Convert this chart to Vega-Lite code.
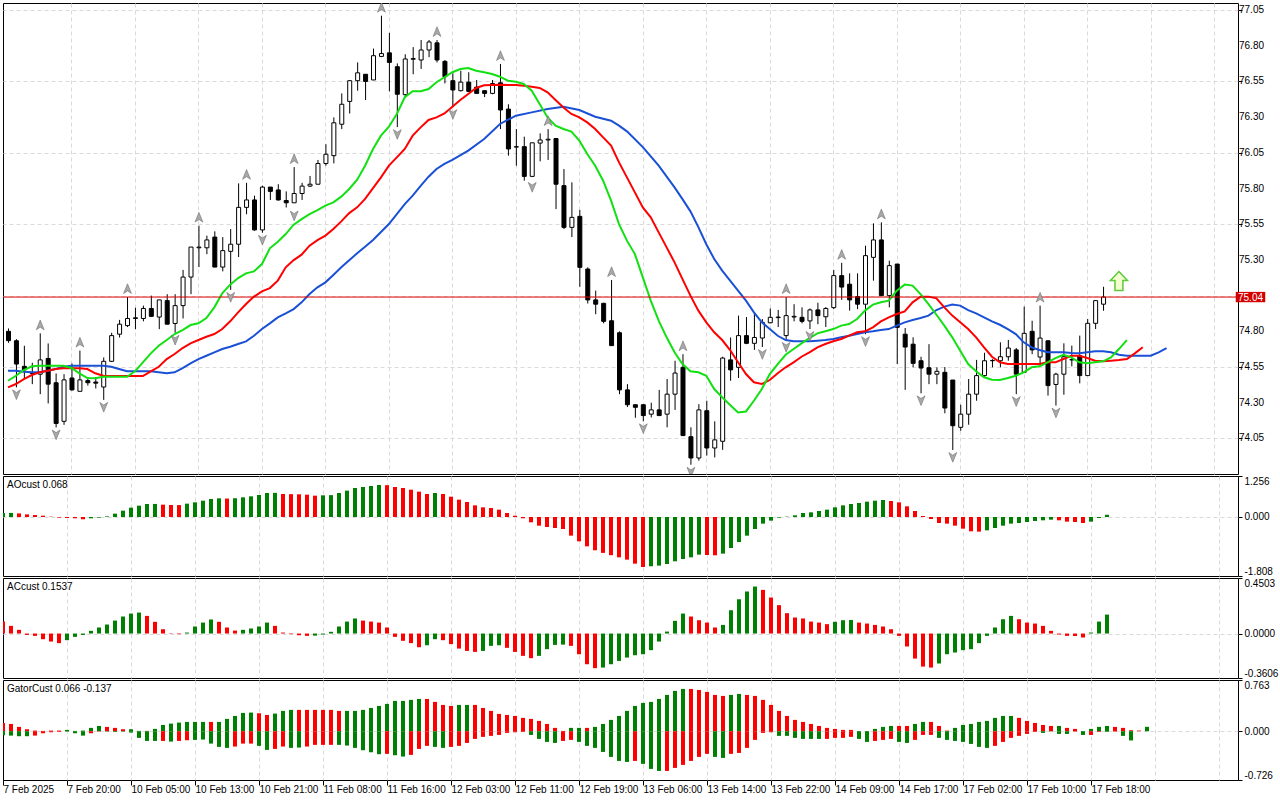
{
  "$schema": "https://vega.github.io/schema/vega-lite/v6.json",
  "background": "white",
  "padding": {"left": 2, "top": 2, "right": 0, "bottom": 0},
  "spacing": 0,
  "config": {
    "view": {"stroke": "black", "strokeWidth": 1},
    "font": "Liberation Sans",
    "axis": {
      "labelFont": "Liberation Sans",
      "labelFontSize": 10,
      "labelColor": "black",
      "tickColor": "black",
      "domain": false,
      "gridColor": "#dadada",
      "gridDash": [4, 3],
      "gridWidth": 1
    }
  },
  "datasets": {
    "candles": [
      {"k":0,"o":74.8,"h":74.82,"l":74.72,"c":74.735},
      {"k":1,"o":74.734,"h":74.745,"l":74.408,"c":74.571},
      {"k":2,"o":74.555,"h":74.699,"l":74.466,"c":74.53},
      {"k":3,"o":74.51,"h":74.58,"l":74.43,"c":74.505},
      {"k":4,"o":74.5,"h":74.786,"l":74.36,"c":74.6},
      {"k":5,"o":74.61,"h":74.715,"l":74.295,"c":74.43},
      {"k":6,"o":74.44,"h":74.505,"l":74.127,"c":74.155},
      {"k":7,"o":74.17,"h":74.5,"l":74.145,"c":74.46},
      {"k":8,"o":74.473,"h":74.575,"l":74.385,"c":74.39},
      {"k":9,"o":74.38,"h":74.665,"l":74.38,"c":74.46},
      {"k":10,"o":74.455,"h":74.48,"l":74.42,"c":74.44},
      {"k":11,"o":74.445,"h":74.48,"l":74.4,"c":74.437},
      {"k":12,"o":74.41,"h":74.617,"l":74.32,"c":74.59},
      {"k":13,"o":74.59,"h":74.79,"l":74.585,"c":74.77},
      {"k":14,"o":74.78,"h":74.88,"l":74.757,"c":74.85},
      {"k":15,"o":74.84,"h":75.04,"l":74.83,"c":74.89},
      {"k":16,"o":74.89,"h":74.965,"l":74.815,"c":74.895},
      {"k":17,"o":74.89,"h":74.98,"l":74.87,"c":74.96},
      {"k":18,"o":74.96,"h":75.05,"l":74.9,"c":74.905},
      {"k":19,"o":74.9,"h":75.02,"l":74.815,"c":75.02},
      {"k":20,"o":75.015,"h":75.06,"l":74.85,"c":74.85},
      {"k":21,"o":74.855,"h":75.06,"l":74.79,"c":74.98},
      {"k":22,"o":74.98,"h":75.23,"l":74.89,"c":75.18},
      {"k":23,"o":75.18,"h":75.39,"l":75.06,"c":75.39},
      {"k":24,"o":75.385,"h":75.54,"l":75.25,"c":75.39},
      {"k":25,"o":75.385,"h":75.47,"l":75.34,"c":75.44},
      {"k":26,"o":75.46,"h":75.5,"l":75.25,"c":75.25},
      {"k":27,"o":75.25,"h":75.46,"l":75.22,"c":75.365},
      {"k":28,"o":75.36,"h":75.516,"l":75.09,"c":75.41},
      {"k":29,"o":75.41,"h":75.836,"l":75.32,"c":75.668},
      {"k":30,"o":75.668,"h":75.84,"l":75.62,"c":75.72},
      {"k":31,"o":75.72,"h":75.75,"l":75.505,"c":75.51},
      {"k":32,"o":75.51,"h":75.82,"l":75.49,"c":75.81},
      {"k":33,"o":75.81,"h":75.81,"l":75.72,"c":75.78},
      {"k":34,"o":75.79,"h":75.83,"l":75.715,"c":75.72},
      {"k":35,"o":75.716,"h":75.78,"l":75.667,"c":75.7},
      {"k":36,"o":75.7,"h":75.95,"l":75.7,"c":75.765},
      {"k":37,"o":75.765,"h":75.84,"l":75.72,"c":75.817},
      {"k":38,"o":75.817,"h":75.888,"l":75.81,"c":75.83},
      {"k":39,"o":75.83,"h":76.0,"l":75.83,"c":75.975},
      {"k":40,"o":75.975,"h":76.11,"l":75.96,"c":76.04},
      {"k":41,"o":76.03,"h":76.298,"l":75.976,"c":76.26},
      {"k":42,"o":76.25,"h":76.466,"l":76.216,"c":76.39},
      {"k":43,"o":76.41,"h":76.56,"l":76.325,"c":76.555},
      {"k":44,"o":76.555,"h":76.683,"l":76.485,"c":76.61},
      {"k":45,"o":76.6,"h":76.6,"l":76.42,"c":76.55},
      {"k":46,"o":76.56,"h":76.78,"l":76.56,"c":76.73},
      {"k":47,"o":76.725,"h":77.01,"l":76.72,"c":76.745},
      {"k":48,"o":76.75,"h":76.89,"l":76.48,"c":76.683},
      {"k":49,"o":76.653,"h":76.676,"l":76.23,"c":76.46},
      {"k":50,"o":76.457,"h":76.74,"l":76.438,"c":76.707},
      {"k":51,"o":76.705,"h":76.79,"l":76.6,"c":76.71},
      {"k":52,"o":76.7,"h":76.84,"l":76.637,"c":76.77},
      {"k":53,"o":76.77,"h":76.84,"l":76.72,"c":76.826},
      {"k":54,"o":76.82,"h":76.84,"l":76.683,"c":76.7},
      {"k":55,"o":76.69,"h":76.7,"l":76.536,"c":76.583},
      {"k":56,"o":76.555,"h":76.607,"l":76.37,"c":76.49},
      {"k":57,"o":76.485,"h":76.625,"l":76.48,"c":76.545},
      {"k":58,"o":76.545,"h":76.614,"l":76.48,"c":76.48},
      {"k":59,"o":76.51,"h":76.56,"l":76.466,"c":76.466},
      {"k":60,"o":76.485,"h":76.49,"l":76.44,"c":76.466},
      {"k":61,"o":76.466,"h":76.56,"l":76.46,"c":76.535},
      {"k":62,"o":76.54,"h":76.672,"l":76.216,"c":76.35},
      {"k":63,"o":76.356,"h":76.39,"l":76.03,"c":76.077},
      {"k":64,"o":76.09,"h":76.216,"l":75.96,"c":76.093},
      {"k":65,"o":76.093,"h":76.163,"l":75.855,"c":75.885},
      {"k":66,"o":75.885,"h":76.12,"l":75.88,"c":76.12},
      {"k":67,"o":76.118,"h":76.186,"l":75.99,"c":76.14},
      {"k":68,"o":76.14,"h":76.216,"l":76.0,"c":76.145},
      {"k":69,"o":76.15,"h":76.15,"l":75.656,"c":75.83},
      {"k":70,"o":75.82,"h":75.936,"l":75.516,"c":75.528},
      {"k":71,"o":75.528,"h":75.843,"l":75.46,"c":75.598},
      {"k":72,"o":75.605,"h":75.65,"l":75.112,"c":75.248},
      {"k":73,"o":75.236,"h":75.248,"l":74.995,"c":75.02},
      {"k":74,"o":75.02,"h":75.085,"l":74.92,"c":74.99},
      {"k":75,"o":74.996,"h":75.0,"l":74.856,"c":74.87},
      {"k":76,"o":74.874,"h":75.159,"l":74.7,"c":74.7},
      {"k":77,"o":74.79,"h":74.8,"l":74.36,"c":74.39},
      {"k":78,"o":74.39,"h":74.43,"l":74.27,"c":74.286},
      {"k":79,"o":74.286,"h":74.286,"l":74.195,"c":74.268},
      {"k":80,"o":74.286,"h":74.29,"l":74.17,"c":74.21},
      {"k":81,"o":74.22,"h":74.3,"l":74.197,"c":74.25},
      {"k":82,"o":74.25,"h":74.39,"l":74.21,"c":74.21},
      {"k":83,"o":74.22,"h":74.466,"l":74.128,"c":74.36},
      {"k":84,"o":74.36,"h":74.594,"l":74.25,"c":74.508},
      {"k":85,"o":74.548,"h":74.64,"l":74.07,"c":74.07},
      {"k":86,"o":74.062,"h":74.128,"l":73.866,"c":73.913},
      {"k":87,"o":73.913,"h":74.29,"l":73.894,"c":74.25},
      {"k":88,"o":74.244,"h":74.314,"l":73.93,"c":73.983},
      {"k":89,"o":73.983,"h":74.17,"l":73.917,"c":74.04},
      {"k":90,"o":74.03,"h":74.622,"l":73.97,"c":74.613},
      {"k":91,"o":74.6,"h":74.757,"l":74.454,"c":74.53},
      {"k":92,"o":74.548,"h":74.91,"l":74.473,"c":74.77},
      {"k":93,"o":74.77,"h":74.9,"l":74.71,"c":74.716},
      {"k":94,"o":74.716,"h":74.93,"l":74.67,"c":74.757},
      {"k":95,"o":74.753,"h":74.886,"l":74.69,"c":74.863},
      {"k":96,"o":74.86,"h":74.96,"l":74.856,"c":74.898},
      {"k":97,"o":74.896,"h":74.95,"l":74.83,"c":74.9},
      {"k":98,"o":74.77,"h":75.04,"l":74.74,"c":74.91},
      {"k":99,"o":74.9,"h":74.99,"l":74.87,"c":74.905},
      {"k":100,"o":74.898,"h":74.968,"l":74.856,"c":74.87},
      {"k":101,"o":74.873,"h":74.96,"l":74.816,"c":74.95},
      {"k":102,"o":74.95,"h":75.0,"l":74.85,"c":74.91},
      {"k":103,"o":74.902,"h":74.97,"l":74.83,"c":74.96},
      {"k":104,"o":74.966,"h":75.23,"l":74.955,"c":75.19},
      {"k":105,"o":75.19,"h":75.28,"l":75.02,"c":75.11},
      {"k":106,"o":75.13,"h":75.206,"l":74.945,"c":75.02},
      {"k":107,"o":75.043,"h":75.206,"l":74.955,"c":74.99},
      {"k":108,"o":74.99,"h":75.4,"l":74.78,"c":75.33},
      {"k":109,"o":75.318,"h":75.556,"l":75.155,"c":75.44},
      {"k":110,"o":75.44,"h":75.563,"l":75.05,"c":75.05},
      {"k":111,"o":75.05,"h":75.295,"l":74.968,"c":75.26},
      {"k":112,"o":75.271,"h":75.271,"l":74.571,"c":74.828},
      {"k":113,"o":74.78,"h":74.823,"l":74.39,"c":74.69},
      {"k":114,"o":74.71,"h":74.758,"l":74.548,"c":74.576},
      {"k":115,"o":74.594,"h":74.622,"l":74.366,"c":74.543},
      {"k":116,"o":74.545,"h":74.71,"l":74.43,"c":74.5},
      {"k":117,"o":74.5,"h":74.548,"l":74.43,"c":74.52},
      {"k":118,"o":74.513,"h":74.55,"l":74.226,"c":74.263},
      {"k":119,"o":74.459,"h":74.459,"l":73.969,"c":74.139},
      {"k":120,"o":74.128,"h":74.286,"l":74.104,"c":74.22},
      {"k":121,"o":74.22,"h":74.466,"l":74.146,"c":74.36},
      {"k":122,"o":74.36,"h":74.6,"l":74.314,"c":74.49},
      {"k":123,"o":74.49,"h":74.65,"l":74.48,"c":74.594},
      {"k":124,"o":74.594,"h":74.605,"l":74.548,"c":74.596},
      {"k":125,"o":74.594,"h":74.723,"l":74.548,"c":74.622},
      {"k":126,"o":74.622,"h":74.74,"l":74.594,"c":74.683},
      {"k":127,"o":74.67,"h":74.683,"l":74.36,"c":74.5},
      {"k":128,"o":74.513,"h":74.973,"l":74.513,"c":74.786},
      {"k":129,"o":74.8,"h":74.874,"l":74.64,"c":74.67},
      {"k":130,"o":74.62,"h":74.98,"l":74.56,"c":74.753},
      {"k":131,"o":74.734,"h":74.734,"l":74.35,"c":74.42},
      {"k":132,"o":74.428,"h":74.51,"l":74.28,"c":74.5},
      {"k":133,"o":74.5,"h":74.716,"l":74.356,"c":74.622},
      {"k":134,"o":74.6,"h":74.7,"l":74.555,"c":74.602},
      {"k":135,"o":74.63,"h":74.77,"l":74.436,"c":74.49},
      {"k":136,"o":74.49,"h":74.886,"l":74.49,"c":74.856},
      {"k":137,"o":74.856,"h":75.015,"l":74.816,"c":75.015},
      {"k":138,"o":74.99,"h":75.112,"l":74.944,"c":75.04}
    ],
    "alligator": [
      {"k":0,"jaw":74.524,"teeth":74.407,"lips":74.454},
      {"k":1,"jaw":74.524,"teeth":74.431,"lips":74.489},
      {"k":2,"jaw":74.517,"teeth":74.466,"lips":74.529},
      {"k":3,"jaw":74.513,"teeth":74.494,"lips":74.555},
      {"k":4,"jaw":74.513,"teeth":74.513,"lips":74.559},
      {"k":5,"jaw":74.524,"teeth":74.524,"lips":74.559},
      {"k":6,"jaw":74.536,"teeth":74.536,"lips":74.559},
      {"k":7,"jaw":74.552,"teeth":74.541,"lips":74.559},
      {"k":8,"jaw":74.559,"teeth":74.541,"lips":74.543},
      {"k":9,"jaw":74.559,"teeth":74.541,"lips":74.506},
      {"k":10,"jaw":74.559,"teeth":74.536,"lips":74.473},
      {"k":11,"jaw":74.559,"teeth":74.506,"lips":74.471},
      {"k":12,"jaw":74.559,"teeth":74.489,"lips":74.482},
      {"k":13,"jaw":74.552,"teeth":74.487,"lips":74.482},
      {"k":14,"jaw":74.536,"teeth":74.487,"lips":74.482},
      {"k":15,"jaw":74.52,"teeth":74.487,"lips":74.482},
      {"k":16,"jaw":74.52,"teeth":74.487,"lips":74.52},
      {"k":17,"jaw":74.52,"teeth":74.487,"lips":74.583},
      {"k":18,"jaw":74.52,"teeth":74.52,"lips":74.646},
      {"k":19,"jaw":74.513,"teeth":74.552,"lips":74.699},
      {"k":20,"jaw":74.506,"teeth":74.606,"lips":74.739},
      {"k":21,"jaw":74.513,"teeth":74.641,"lips":74.781},
      {"k":22,"jaw":74.543,"teeth":74.683,"lips":74.809},
      {"k":23,"jaw":74.576,"teeth":74.716,"lips":74.844},
      {"k":24,"jaw":74.606,"teeth":74.739,"lips":74.856},
      {"k":25,"jaw":74.629,"teeth":74.762,"lips":74.893},
      {"k":26,"jaw":74.653,"teeth":74.781,"lips":74.968},
      {"k":27,"jaw":74.676,"teeth":74.816,"lips":75.066},
      {"k":28,"jaw":74.692,"teeth":74.87,"lips":75.127},
      {"k":29,"jaw":74.711,"teeth":74.933,"lips":75.173},
      {"k":30,"jaw":74.73,"teeth":74.991,"lips":75.206},
      {"k":31,"jaw":74.769,"teeth":75.043,"lips":75.22},
      {"k":32,"jaw":74.816,"teeth":75.08,"lips":75.271},
      {"k":33,"jaw":74.856,"teeth":75.103,"lips":75.381},
      {"k":34,"jaw":74.898,"teeth":75.155,"lips":75.428},
      {"k":35,"jaw":74.926,"teeth":75.248,"lips":75.481},
      {"k":36,"jaw":74.956,"teeth":75.299,"lips":75.547},
      {"k":37,"jaw":75.003,"teeth":75.337,"lips":75.586},
      {"k":38,"jaw":75.061,"teeth":75.4,"lips":75.621},
      {"k":39,"jaw":75.108,"teeth":75.439,"lips":75.649},
      {"k":40,"jaw":75.143,"teeth":75.47,"lips":75.68},
      {"k":41,"jaw":75.195,"teeth":75.516,"lips":75.703},
      {"k":42,"jaw":75.248,"teeth":75.57,"lips":75.743},
      {"k":43,"jaw":75.297,"teeth":75.628,"lips":75.797},
      {"k":44,"jaw":75.346,"teeth":75.668,"lips":75.862},
      {"k":45,"jaw":75.392,"teeth":75.727,"lips":75.96},
      {"k":46,"jaw":75.439,"teeth":75.803,"lips":76.077},
      {"k":47,"jaw":75.495,"teeth":75.878,"lips":76.17},
      {"k":48,"jaw":75.551,"teeth":75.96,"lips":76.233},
      {"k":49,"jaw":75.62,"teeth":76.018,"lips":76.322},
      {"k":50,"jaw":75.691,"teeth":76.077,"lips":76.439},
      {"k":51,"jaw":75.75,"teeth":76.17,"lips":76.481},
      {"k":52,"jaw":75.818,"teeth":76.228,"lips":76.481},
      {"k":53,"jaw":75.883,"teeth":76.28,"lips":76.497},
      {"k":54,"jaw":75.937,"teeth":76.298,"lips":76.544},
      {"k":55,"jaw":75.972,"teeth":76.326,"lips":76.579},
      {"k":56,"jaw":76.0,"teeth":76.373,"lips":76.614},
      {"k":57,"teeth":76.42,"lips":76.637},
      {"k":58,"jaw":76.065,"teeth":76.462,"lips":76.644},
      {"k":59,"teeth":76.504,"lips":76.625},
      {"k":60,"jaw":76.147,"teeth":76.523,"lips":76.614},
      {"k":61,"teeth":76.525,"lips":76.602},
      {"k":62,"jaw":76.252,"teeth":76.527,"lips":76.583},
      {"k":63,"teeth":76.525,"lips":76.555},
      {"k":64,"jaw":76.31,"teeth":76.525,"lips":76.548},
      {"k":65,"teeth":76.52,"lips":76.532},
      {"k":66,"jaw":76.333,"teeth":76.513,"lips":76.485},
      {"k":67,"teeth":76.504,"lips":76.392},
      {"k":68,"jaw":76.357,"teeth":76.473,"lips":76.298},
      {"k":69,"teeth":76.42,"lips":76.24},
      {"k":70,"jaw":76.373,"teeth":76.368,"lips":76.217},
      {"k":71,"teeth":76.322,"lips":76.198},
      {"k":72,"jaw":76.35,"teeth":76.298,"lips":76.135},
      {"k":73,"teeth":76.263,"lips":76.042},
      {"k":74,"jaw":76.303,"teeth":76.217,"lips":75.96},
      {"k":75,"teeth":76.158,"lips":75.855},
      {"k":76,"jaw":76.275,"teeth":76.1,"lips":75.715},
      {"k":77,"jaw":76.24,"teeth":75.983,"lips":75.551},
      {"k":78,"jaw":76.2,"teeth":75.878,"lips":75.435},
      {"k":79,"teeth":75.773,"lips":75.341},
      {"k":80,"jaw":76.09,"teeth":75.668,"lips":75.178},
      {"k":81,"teeth":75.598,"lips":75.015},
      {"k":82,"jaw":75.96,"teeth":75.493,"lips":74.875},
      {"k":83,"teeth":75.388,"lips":74.758},
      {"k":84,"jaw":75.808,"teeth":75.283,"lips":74.653},
      {"k":85,"jaw":75.726,"teeth":75.166,"lips":74.571},
      {"k":86,"jaw":75.64,"teeth":75.05,"lips":74.52},
      {"k":87,"jaw":75.53,"teeth":74.945,"lips":74.513},
      {"k":88,"jaw":75.41,"teeth":74.863,"lips":74.489},
      {"k":89,"jaw":75.306,"teeth":74.793,"lips":74.396},
      {"k":90,"jaw":75.225,"teeth":74.739,"lips":74.338},
      {"k":91,"jaw":75.155,"teeth":74.669,"lips":74.284},
      {"k":92,"jaw":75.085,"teeth":74.583,"lips":74.232},
      {"k":93,"jaw":75.015,"teeth":74.501,"lips":74.239},
      {"k":94,"jaw":74.933,"teeth":74.443,"lips":74.314},
      {"k":95,"jaw":74.863,"teeth":74.431,"lips":74.396},
      {"k":96,"jaw":74.816,"teeth":74.459,"lips":74.501},
      {"k":97,"jaw":74.769,"teeth":74.506,"lips":74.571},
      {"k":98,"jaw":74.739,"teeth":74.548,"lips":74.636},
      {"k":99,"jaw":74.73,"teeth":74.583,"lips":74.676},
      {"k":100,"jaw":74.73,"teeth":74.622,"lips":74.716},
      {"k":101,"jaw":74.73,"teeth":74.653,"lips":74.753},
      {"k":102,"jaw":74.734,"teeth":74.688,"lips":74.786},
      {"k":103,"jaw":74.739,"teeth":74.711,"lips":74.8},
      {"k":104,"jaw":74.746,"teeth":74.73,"lips":74.816},
      {"k":105,"jaw":74.758,"teeth":74.746,"lips":74.84},
      {"k":106,"jaw":74.769,"teeth":74.77,"lips":74.851},
      {"k":107,"jaw":74.781,"teeth":74.793,"lips":74.886},
      {"k":108,"jaw":74.793,"teeth":74.8,"lips":74.945},
      {"k":109,"jaw":74.8,"teeth":74.828,"lips":74.987},
      {"k":110,"jaw":74.809,"teeth":74.87,"lips":75.003},
      {"k":111,"jaw":74.816,"teeth":74.898,"lips":75.015},
      {"k":112,"jaw":74.84,"teeth":74.921,"lips":75.085},
      {"k":113,"jaw":74.863,"teeth":74.94,"lips":75.127},
      {"k":114,"jaw":74.879,"teeth":75.003,"lips":75.12},
      {"k":115,"jaw":74.893,"teeth":75.043,"lips":75.061},
      {"k":116,"jaw":74.91,"teeth":75.043,"lips":74.991},
      {"k":117,"jaw":74.949,"teeth":75.031,"lips":74.916},
      {"k":118,"jaw":74.973,"teeth":74.968,"lips":74.84},
      {"k":119,"jaw":74.987,"teeth":74.91,"lips":74.758},
      {"k":120,"jaw":74.98,"teeth":74.863,"lips":74.664},
      {"k":121,"jaw":74.949,"teeth":74.816,"lips":74.571},
      {"k":122,"jaw":74.926,"teeth":74.758,"lips":74.52},
      {"k":123,"jaw":74.898,"teeth":74.688,"lips":74.478},
      {"k":124,"jaw":74.87,"teeth":74.622,"lips":74.461},
      {"k":125,"jaw":74.846,"teeth":74.583,"lips":74.459},
      {"k":126,"jaw":74.816,"teeth":74.571,"lips":74.473},
      {"k":127,"jaw":74.781,"teeth":74.571,"lips":74.489},
      {"k":128,"jaw":74.723,"teeth":74.571,"lips":74.513},
      {"k":129,"jaw":74.688,"teeth":74.571,"lips":74.548},
      {"k":130,"jaw":74.669,"teeth":74.571,"lips":74.555},
      {"k":131,"jaw":74.653,"teeth":74.583,"lips":74.583},
      {"k":132,"jaw":74.653,"teeth":74.583,"lips":74.613},
      {"k":133,"jaw":74.653,"teeth":74.606,"lips":74.636},
      {"k":134,"jaw":74.648,"teeth":74.629,"lips":74.618},
      {"k":135,"jaw":74.646,"teeth":74.629,"lips":74.583},
      {"k":136,"jaw":74.653,"teeth":74.613,"lips":74.576},
      {"k":137,"jaw":74.66,"teeth":74.594,"lips":74.583},
      {"k":138,"jaw":74.66,"teeth":74.59,"lips":74.59},
      {"k":139,"jaw":74.653,"teeth":74.594,"lips":74.618},
      {"k":140,"jaw":74.636,"teeth":74.599,"lips":74.676},
      {"k":141,"jaw":74.629,"teeth":74.606,"lips":74.739},
      {"k":142,"jaw":74.629,"teeth":74.646},
      {"k":143,"jaw":74.629,"teeth":74.688},
      {"k":144,"jaw":74.629},
      {"k":145,"jaw":74.653},
      {"k":146,"jaw":74.683}
    ],
    "fractals": [
      {"k":4,"side":"up","p":74.786},{"k":9,"side":"up","p":74.665},{"k":15,"side":"up","p":75.04},
      {"k":24,"side":"up","p":75.54},{"k":30,"side":"up","p":75.84},{"k":36,"side":"up","p":75.95},
      {"k":47,"side":"up","p":77.01},{"k":54,"side":"up","p":76.84},{"k":62,"side":"up","p":76.672},
      {"k":68,"side":"up","p":76.216},{"k":76,"side":"up","p":75.159},{"k":85,"side":"up","p":74.64},
      {"k":98,"side":"up","p":75.04},{"k":105,"side":"up","p":75.28},{"k":110,"side":"up","p":75.563},
      {"k":130,"side":"up","p":74.98},
      {"k":1,"side":"down","p":74.408},{"k":6,"side":"down","p":74.127},{"k":12,"side":"down","p":74.32},
      {"k":21,"side":"down","p":74.79},{"k":28,"side":"down","p":75.09},{"k":32,"side":"down","p":75.49},
      {"k":36,"side":"down","p":75.66},{"k":49,"side":"down","p":76.23},{"k":56,"side":"down","p":76.37},
      {"k":66,"side":"down","p":75.86},{"k":80,"side":"down","p":74.17},{"k":86,"side":"down","p":73.866},
      {"k":95,"side":"down","p":74.69},{"k":98,"side":"down","p":74.74},{"k":101,"side":"down","p":74.816},
      {"k":108,"side":"down","p":74.78},{"k":115,"side":"down","p":74.366},{"k":119,"side":"down","p":73.969},
      {"k":127,"side":"down","p":74.36},{"k":132,"side":"down","p":74.28}
    ],
    "signal": [{"k":140,"p":75.152}],
    "bid": [{"bid":75.04}],
    "levels": [
      {"v":77.05},{"v":76.8},{"v":76.55},{"v":76.3},{"v":76.05},{"v":75.8},
      {"v":75.55},{"v":75.3},{"v":74.8},{"v":74.55},{"v":74.3},{"v":74.05}
    ],
    "panels": [
      {"panel":"ao","label":"AOcust 0.068"},
      {"panel":"ac","label":"ACcust 0.1537"},
      {"panel":"gator","label":"GatorCust 0.066 -0.137"}
    ],
    "ind": [
      {"k":0,"ao":0.12,"aod":"u","ac":0.097,"acd":"d","gu":0.124,"gud":"d","gl":-0.06,"gld":"u"},
      {"k":1,"ao":0.125,"aod":"u","ac":0.062,"acd":"d","gu":0.109,"gud":"d","gl":-0.065,"gld":"u"},
      {"k":2,"ao":0.11,"aod":"d","ac":0.03,"acd":"d","gu":0.065,"gud":"d","gl":-0.074,"gld":"u"},
      {"k":3,"ao":0.08,"aod":"d","ac":-0.011,"acd":"d","gu":0.03,"gud":"d","gl":-0.074,"gld":"u"},
      {"k":4,"ao":0.06,"aod":"d","ac":-0.019,"acd":"d","gu":0.01,"gud":"d","gl":-0.065,"gld":"d"},
      {"k":5,"ao":0.04,"aod":"d","ac":-0.046,"acd":"d","gu":0.005,"gud":"d","gl":-0.03,"gld":"d"},
      {"k":6,"ao":0.01,"aod":"d","ac":-0.065,"acd":"d","gu":0.01,"gud":"d","gl":-0.015,"gld":"d"},
      {"k":7,"ao":-0.02,"aod":"d","ac":-0.078,"acd":"d","gu":0.01,"gud":"d","gl":-0.01,"gld":"d"},
      {"k":8,"ao":-0.03,"aod":"d","ac":-0.054,"acd":"u","gu":0.02,"gud":"u","gl":-0.005,"gld":"u"},
      {"k":9,"ao":-0.04,"aod":"d","ac":-0.027,"acd":"u","gu":0.005,"gud":"u","gl":-0.03,"gld":"u"},
      {"k":10,"ao":-0.07,"aod":"d","ac":-0.011,"acd":"u","gu":0.01,"gud":"u","gl":-0.065,"gld":"u"},
      {"k":11,"ao":-0.04,"aod":"u","ac":0.022,"acd":"u","gu":0.05,"gud":"u","gl":-0.03,"gld":"d"},
      {"k":12,"ao":-0.02,"aod":"u","ac":0.049,"acd":"u","gu":0.079,"gud":"u","gl":-0.005,"gld":"d"},
      {"k":13,"ao":0.02,"aod":"u","ac":0.073,"acd":"u","gu":0.065,"gud":"d","gl":-0.005,"gld":"u"},
      {"k":14,"ao":0.102,"aod":"u","ac":0.105,"acd":"u","gu":0.05,"gud":"d","gl":-0.01,"gld":"u"},
      {"k":15,"ao":0.194,"aod":"u","ac":0.138,"acd":"u","gu":0.03,"gud":"d","gl":-0.005,"gld":"u"},
      {"k":16,"ao":0.286,"aod":"u","ac":0.162,"acd":"u","gu":0.03,"gud":"u","gl":-0.02,"gld":"u"},
      {"k":17,"ao":0.347,"aod":"u","ac":0.17,"acd":"u","gu":0.005,"gud":"u","gl":-0.099,"gld":"u"},
      {"k":18,"ao":0.398,"aod":"u","ac":0.143,"acd":"d","gu":0.005,"gud":"d","gl":-0.144,"gld":"u"},
      {"k":19,"ao":0.4,"aod":"u","ac":0.095,"acd":"d","gu":0.035,"gud":"u","gl":-0.144,"gld":"u"},
      {"k":20,"ao":0.378,"aod":"d","ac":0.035,"acd":"d","gu":0.094,"gud":"u","gl":-0.144,"gld":"d"},
      {"k":21,"ao":0.368,"aod":"d","ac":-0.003,"acd":"d","gu":0.114,"gud":"u","gl":-0.154,"gld":"u"},
      {"k":22,"ao":0.365,"aod":"d","ac":-0.005,"acd":"d","gu":0.129,"gud":"u","gl":-0.144,"gld":"d"},
      {"k":23,"ao":0.409,"aod":"u","ac":0.008,"acd":"u","gu":0.139,"gud":"u","gl":-0.134,"gld":"d"},
      {"k":24,"ao":0.449,"aod":"u","ac":0.057,"acd":"u","gu":0.139,"gud":"u","gl":-0.129,"gld":"u"},
      {"k":25,"ao":0.5,"aod":"u","ac":0.089,"acd":"u","gu":0.139,"gud":"u","gl":-0.124,"gld":"u"},
      {"k":26,"ao":0.551,"aod":"u","ac":0.114,"acd":"u","gu":0.139,"gud":"d","gl":-0.184,"gld":"u"},
      {"k":27,"ao":0.572,"aod":"u","ac":0.095,"acd":"d","gu":0.139,"gud":"u","gl":-0.233,"gld":"u"},
      {"k":28,"ao":0.565,"aod":"d","ac":0.049,"acd":"d","gu":0.184,"gud":"u","gl":-0.248,"gld":"u"},
      {"k":29,"ao":0.575,"aod":"u","ac":0.024,"acd":"d","gu":0.228,"gud":"u","gl":-0.228,"gld":"d"},
      {"k":30,"ao":0.603,"aod":"u","ac":0.03,"acd":"u","gu":0.273,"gud":"u","gl":-0.184,"gld":"d"},
      {"k":31,"ao":0.633,"aod":"u","ac":0.041,"acd":"u","gu":0.278,"gud":"u","gl":-0.184,"gld":"d"},
      {"k":32,"ao":0.674,"aod":"u","ac":0.057,"acd":"u","gu":0.268,"gud":"d","gl":-0.218,"gld":"u"},
      {"k":33,"ao":0.735,"aod":"u","ac":0.089,"acd":"u","gu":0.243,"gud":"d","gl":-0.278,"gld":"u"},
      {"k":34,"ao":0.74,"aod":"u","ac":0.062,"acd":"d","gu":0.263,"gud":"u","gl":-0.263,"gld":"d"},
      {"k":35,"ao":0.705,"aod":"d","ac":0.008,"acd":"d","gu":0.303,"gud":"u","gl":-0.228,"gld":"d"},
      {"k":36,"ao":0.7,"aod":"d","ac":-0.005,"acd":"d","gu":0.318,"gud":"u","gl":-0.248,"gld":"u"},
      {"k":37,"ao":0.695,"aod":"d","ac":-0.014,"acd":"d","gu":0.318,"gud":"d","gl":-0.243,"gld":"u"},
      {"k":38,"ao":0.684,"aod":"d","ac":-0.019,"acd":"d","gu":0.318,"gud":"d","gl":-0.228,"gld":"d"},
      {"k":39,"ao":0.654,"aod":"d","ac":-0.017,"acd":"u","gu":0.318,"gud":"d","gl":-0.203,"gld":"d"},
      {"k":40,"ao":0.664,"aod":"u","ac":-0.008,"acd":"u","gu":0.318,"gud":"d","gl":-0.203,"gld":"d"},
      {"k":41,"ao":0.67,"aod":"u","ac":0.014,"acd":"u","gu":0.318,"gud":"d","gl":-0.203,"gld":"d"},
      {"k":42,"ao":0.735,"aod":"u","ac":0.057,"acd":"u","gu":0.303,"gud":"d","gl":-0.203,"gld":"u"},
      {"k":43,"ao":0.807,"aod":"u","ac":0.097,"acd":"u","gu":0.303,"gud":"u","gl":-0.213,"gld":"u"},
      {"k":44,"ao":0.889,"aod":"u","ac":0.122,"acd":"u","gu":0.303,"gud":"u","gl":-0.248,"gld":"u"},
      {"k":45,"ao":0.919,"aod":"u","ac":0.105,"acd":"d","gu":0.318,"gud":"u","gl":-0.283,"gld":"u"},
      {"k":46,"ao":0.95,"aod":"u","ac":0.097,"acd":"d","gu":0.347,"gud":"u","gl":-0.313,"gld":"u"},
      {"k":47,"ao":0.98,"aod":"u","ac":0.089,"acd":"d","gu":0.377,"gud":"u","gl":-0.342,"gld":"u"},
      {"k":48,"ao":0.975,"aod":"d","ac":0.049,"acd":"d","gu":0.407,"gud":"u","gl":-0.337,"gld":"d"},
      {"k":49,"ao":0.919,"aod":"d","ac":-0.027,"acd":"d","gu":0.452,"gud":"u","gl":-0.357,"gld":"u"},
      {"k":50,"ao":0.889,"aod":"d","ac":-0.059,"acd":"d","gu":0.452,"gud":"u","gl":-0.377,"gld":"u"},
      {"k":51,"ao":0.837,"aod":"d","ac":-0.078,"acd":"d","gu":0.467,"gud":"u","gl":-0.352,"gld":"d"},
      {"k":52,"ao":0.776,"aod":"d","ac":-0.111,"acd":"d","gu":0.481,"gud":"u","gl":-0.263,"gld":"d"},
      {"k":53,"ao":0.705,"aod":"d","ac":-0.095,"acd":"u","gu":0.481,"gud":"d","gl":-0.218,"gld":"d"},
      {"k":54,"ao":0.735,"aod":"u","ac":-0.046,"acd":"u","gu":0.437,"gud":"d","gl":-0.233,"gld":"u"},
      {"k":55,"ao":0.705,"aod":"d","ac":-0.054,"acd":"d","gu":0.392,"gud":"d","gl":-0.248,"gld":"u"},
      {"k":56,"ao":0.623,"aod":"d","ac":-0.086,"acd":"d","gu":0.377,"gud":"d","gl":-0.233,"gld":"d"},
      {"k":57,"ao":0.531,"aod":"d","ac":-0.122,"acd":"d","gu":0.392,"gud":"u","gl":-0.218,"gld":"d"},
      {"k":58,"ao":0.46,"aod":"d","ac":-0.141,"acd":"d","gu":0.392,"gud":"u","gl":-0.174,"gld":"d"},
      {"k":59,"ao":0.357,"aod":"d","ac":-0.149,"acd":"d","gu":0.392,"gud":"d","gl":-0.114,"gld":"d"},
      {"k":60,"ao":0.296,"aod":"d","ac":-0.141,"acd":"u","gu":0.347,"gud":"d","gl":-0.084,"gld":"d"},
      {"k":61,"ao":0.276,"aod":"d","ac":-0.1,"acd":"u","gu":0.303,"gud":"d","gl":-0.069,"gld":"d"},
      {"k":62,"ao":0.225,"aod":"d","ac":-0.095,"acd":"u","gu":0.258,"gud":"d","gl":-0.055,"gld":"d"},
      {"k":63,"ao":0.123,"aod":"d","ac":-0.116,"acd":"d","gu":0.243,"gud":"d","gl":-0.025,"gld":"d"},
      {"k":64,"ao":0.04,"aod":"d","ac":-0.149,"acd":"d","gu":0.228,"gud":"d","gl":-0.015,"gld":"d"},
      {"k":65,"ao":-0.04,"aod":"d","ac":-0.181,"acd":"d","gu":0.199,"gud":"d","gl":-0.01,"gld":"d"},
      {"k":66,"ao":-0.163,"aod":"d","ac":-0.2,"acd":"d","gu":0.184,"gud":"d","gl":-0.055,"gld":"u"},
      {"k":67,"ao":-0.266,"aod":"d","ac":-0.181,"acd":"u","gu":0.154,"gud":"d","gl":-0.114,"gld":"u"},
      {"k":68,"ao":-0.306,"aod":"d","ac":-0.127,"acd":"u","gu":0.109,"gud":"d","gl":-0.159,"gld":"u"},
      {"k":69,"ao":-0.337,"aod":"d","ac":-0.092,"acd":"u","gu":0.05,"gud":"d","gl":-0.174,"gld":"u"},
      {"k":70,"ao":-0.368,"aod":"d","ac":-0.09,"acd":"u","gu":0.005,"gud":"d","gl":-0.144,"gld":"d"},
      {"k":71,"ao":-0.572,"aod":"d","ac":-0.1,"acd":"d","gu":0.05,"gud":"u","gl":-0.129,"gld":"d"},
      {"k":72,"ao":-0.745,"aod":"d","ac":-0.168,"acd":"d","gu":0.05,"gud":"u","gl":-0.159,"gld":"u"},
      {"k":73,"ao":-0.899,"aod":"d","ac":-0.249,"acd":"d","gu":0.05,"gud":"d","gl":-0.218,"gld":"u"},
      {"k":74,"ao":-1.02,"aod":"d","ac":-0.281,"acd":"d","gu":0.065,"gud":"u","gl":-0.248,"gld":"u"},
      {"k":75,"ao":-1.1,"aod":"d","ac":-0.276,"acd":"u","gu":0.109,"gud":"u","gl":-0.308,"gld":"u"},
      {"k":76,"ao":-1.17,"aod":"d","ac":-0.249,"acd":"u","gu":0.169,"gud":"u","gl":-0.382,"gld":"u"},
      {"k":77,"ao":-1.236,"aod":"d","ac":-0.222,"acd":"u","gu":0.228,"gud":"u","gl":-0.442,"gld":"u"},
      {"k":78,"ao":-1.307,"aod":"d","ac":-0.195,"acd":"u","gu":0.303,"gud":"u","gl":-0.457,"gld":"u"},
      {"k":79,"ao":-1.43,"aod":"d","ac":-0.176,"acd":"u","gu":0.377,"gud":"u","gl":-0.442,"gld":"d"},
      {"k":80,"ao":-1.532,"aod":"d","ac":-0.168,"acd":"u","gu":0.422,"gud":"u","gl":-0.486,"gld":"u"},
      {"k":81,"ao":-1.51,"aod":"u","ac":-0.135,"acd":"u","gu":0.437,"gud":"u","gl":-0.561,"gld":"u"},
      {"k":82,"ao":-1.49,"aod":"u","ac":-0.065,"acd":"u","gu":0.481,"gud":"u","gl":-0.591,"gld":"u"},
      {"k":83,"ao":-1.44,"aod":"u","ac":0.016,"acd":"u","gu":0.541,"gud":"u","gl":-0.591,"gld":"d"},
      {"k":84,"ao":-1.358,"aod":"u","ac":0.103,"acd":"u","gu":0.601,"gud":"u","gl":-0.546,"gld":"d"},
      {"k":85,"ao":-1.287,"aod":"u","ac":0.162,"acd":"u","gu":0.63,"gud":"u","gl":-0.501,"gld":"d"},
      {"k":86,"ao":-1.236,"aod":"u","ac":0.138,"acd":"d","gu":0.63,"gud":"d","gl":-0.442,"gld":"d"},
      {"k":87,"ao":-1.154,"aod":"u","ac":0.108,"acd":"d","gu":0.615,"gud":"d","gl":-0.382,"gld":"d"},
      {"k":88,"ao":-1.164,"aod":"d","ac":0.089,"acd":"d","gu":0.586,"gud":"d","gl":-0.337,"gld":"d"},
      {"k":89,"ao":-1.174,"aod":"d","ac":0.049,"acd":"d","gu":0.541,"gud":"d","gl":-0.382,"gld":"u"},
      {"k":90,"ao":-1.123,"aod":"u","ac":0.07,"acd":"u","gu":0.526,"gud":"d","gl":-0.397,"gld":"u"},
      {"k":91,"ao":-0.95,"aod":"u","ac":0.189,"acd":"u","gu":0.541,"gud":"u","gl":-0.337,"gld":"d"},
      {"k":92,"ao":-0.766,"aod":"u","ac":0.278,"acd":"u","gu":0.556,"gud":"u","gl":-0.323,"gld":"d"},
      {"k":93,"ao":-0.572,"aod":"u","ac":0.341,"acd":"u","gu":0.541,"gud":"d","gl":-0.248,"gld":"d"},
      {"k":94,"ao":-0.368,"aod":"u","ac":0.381,"acd":"u","gu":0.526,"gud":"d","gl":-0.129,"gld":"d"},
      {"k":95,"ao":-0.204,"aod":"u","ac":0.354,"acd":"d","gu":0.467,"gud":"d","gl":-0.025,"gld":"d"},
      {"k":96,"ao":-0.112,"aod":"u","ac":0.292,"acd":"d","gu":0.392,"gud":"d","gl":-0.015,"gld":"d"},
      {"k":97,"ao":-0.02,"aod":"u","ac":0.23,"acd":"d","gu":0.303,"gud":"d","gl":-0.069,"gld":"u"},
      {"k":98,"ao":0.01,"aod":"u","ac":0.165,"acd":"d","gu":0.228,"gud":"d","gl":-0.069,"gld":"u"},
      {"k":99,"ao":0.051,"aod":"u","ac":0.13,"acd":"d","gu":0.169,"gud":"d","gl":-0.099,"gld":"u"},
      {"k":100,"ao":0.123,"aod":"u","ac":0.122,"acd":"d","gu":0.139,"gud":"d","gl":-0.114,"gld":"u"},
      {"k":101,"ao":0.143,"aod":"u","ac":0.097,"acd":"d","gu":0.109,"gud":"d","gl":-0.114,"gld":"u"},
      {"k":102,"ao":0.184,"aod":"u","ac":0.089,"acd":"d","gu":0.079,"gud":"d","gl":-0.114,"gld":"u"},
      {"k":103,"ao":0.225,"aod":"u","ac":0.076,"acd":"d","gu":0.05,"gud":"d","gl":-0.114,"gld":"d"},
      {"k":104,"ao":0.296,"aod":"u","ac":0.095,"acd":"u","gu":0.035,"gud":"d","gl":-0.099,"gld":"d"},
      {"k":105,"ao":0.357,"aod":"u","ac":0.108,"acd":"u","gu":0.02,"gud":"d","gl":-0.099,"gld":"d"},
      {"k":106,"ao":0.398,"aod":"u","ac":0.11,"acd":"u","gu":0.02,"gud":"d","gl":-0.084,"gld":"d"},
      {"k":107,"ao":0.429,"aod":"u","ac":0.089,"acd":"d","gu":0.003,"gud":"d","gl":-0.114,"gld":"u"},
      {"k":108,"ao":0.47,"aod":"u","ac":0.081,"acd":"d","gu":0.003,"gud":"u","gl":-0.159,"gld":"u"},
      {"k":109,"ao":0.5,"aod":"u","ac":0.07,"acd":"d","gu":0.035,"gud":"u","gl":-0.144,"gld":"d"},
      {"k":110,"ao":0.521,"aod":"u","ac":0.057,"acd":"d","gu":0.065,"gud":"u","gl":-0.129,"gld":"d"},
      {"k":111,"ao":0.49,"aod":"d","ac":0.035,"acd":"d","gu":0.079,"gud":"u","gl":-0.114,"gld":"d"},
      {"k":112,"ao":0.449,"aod":"d","ac":-0.019,"acd":"d","gu":0.079,"gud":"d","gl":-0.159,"gld":"u"},
      {"k":113,"ao":0.327,"aod":"d","ac":-0.105,"acd":"d","gu":0.079,"gud":"d","gl":-0.174,"gld":"u"},
      {"k":114,"ao":0.184,"aod":"d","ac":-0.203,"acd":"d","gu":0.109,"gud":"u","gl":-0.129,"gld":"d"},
      {"k":115,"ao":0.031,"aod":"d","ac":-0.268,"acd":"d","gu":0.139,"gud":"u","gl":-0.055,"gld":"d"},
      {"k":116,"ao":-0.061,"aod":"d","ac":-0.276,"acd":"d","gu":0.139,"gud":"d","gl":-0.055,"gld":"d"},
      {"k":117,"ao":-0.184,"aod":"d","ac":-0.243,"acd":"u","gu":0.079,"gud":"d","gl":-0.099,"gld":"u"},
      {"k":118,"ao":-0.204,"aod":"d","ac":-0.168,"acd":"u","gu":0.01,"gud":"d","gl":-0.129,"gld":"u"},
      {"k":119,"ao":-0.266,"aod":"d","ac":-0.154,"acd":"u","gu":0.05,"gud":"u","gl":-0.144,"gld":"u"},
      {"k":120,"ao":-0.357,"aod":"d","ac":-0.135,"acd":"u","gu":0.094,"gud":"u","gl":-0.159,"gld":"u"},
      {"k":121,"ao":-0.439,"aod":"d","ac":-0.127,"acd":"u","gu":0.109,"gud":"u","gl":-0.189,"gld":"u"},
      {"k":122,"ao":-0.449,"aod":"d","ac":-0.078,"acd":"u","gu":0.139,"gud":"u","gl":-0.233,"gld":"u"},
      {"k":123,"ao":-0.409,"aod":"u","ac":-0.019,"acd":"u","gu":0.154,"gud":"u","gl":-0.248,"gld":"u"},
      {"k":124,"ao":-0.337,"aod":"u","ac":0.049,"acd":"u","gu":0.199,"gud":"u","gl":-0.218,"gld":"d"},
      {"k":125,"ao":-0.266,"aod":"u","ac":0.116,"acd":"u","gu":0.228,"gud":"u","gl":-0.159,"gld":"d"},
      {"k":126,"ao":-0.204,"aod":"u","ac":0.143,"acd":"u","gu":0.228,"gud":"u","gl":-0.099,"gld":"d"},
      {"k":127,"ao":-0.184,"aod":"u","ac":0.116,"acd":"d","gu":0.199,"gud":"d","gl":-0.069,"gld":"d"},
      {"k":128,"ao":-0.153,"aod":"u","ac":0.089,"acd":"d","gu":0.154,"gud":"d","gl":-0.04,"gld":"d"},
      {"k":129,"ao":-0.123,"aod":"u","ac":0.081,"acd":"d","gu":0.124,"gud":"d","gl":-0.01,"gld":"d"},
      {"k":130,"ao":-0.102,"aod":"u","ac":0.062,"acd":"d","gu":0.094,"gud":"d","gl":-0.025,"gld":"u"},
      {"k":131,"ao":-0.082,"aod":"u","ac":0.022,"acd":"d","gu":0.079,"gud":"d","gl":-0.003,"gld":"u"},
      {"k":132,"ao":-0.102,"aod":"d","ac":-0.008,"acd":"d","gu":0.079,"gud":"u","gl":-0.04,"gld":"u"},
      {"k":133,"ao":-0.143,"aod":"d","ac":-0.019,"acd":"d","gu":0.05,"gud":"d","gl":-0.04,"gld":"u"},
      {"k":134,"ao":-0.153,"aod":"d","ac":-0.02,"acd":"d","gu":0.035,"gud":"d","gl":-0.005,"gld":"d"},
      {"k":135,"ao":-0.184,"aod":"d","ac":-0.032,"acd":"d","gu":0.003,"gud":"u","gl":-0.055,"gld":"u"},
      {"k":136,"ao":-0.143,"aod":"u","ac":0.008,"acd":"u","gu":0.035,"gud":"u","gl":-0.055,"gld":"d"},
      {"k":137,"ao":-0.031,"aod":"u","ac":0.097,"acd":"u","gu":0.065,"gud":"u","gl":-0.01,"gld":"d"},
      {"k":138,"ao":0.068,"aod":"u","ac":0.1537,"acd":"u","gu":0.079,"gud":"u","gl":-0.01,"gld":"u"},
      {"k":139,"gu":0.065,"gud":"d","gl":-0.005,"gld":"d"},
      {"k":140,"gu":0.05,"gud":"d","gl":-0.069,"gld":"u"},
      {"k":141,"gu":0.015,"gud":"d","gl":-0.137,"gld":"u"},
      {"k":142,"gu":0.01,"gud":"d"},
      {"k":143,"gu":0.066,"gud":"u"}
    ]
  },
  "vconcat": [
    {
      "width": 1235,
      "height": 471,
      "layer": [
        {
          "data": {"name": "candles"},
          "mark": {"type": "rule", "color": "black", "strokeWidth": 1, "xOffset": 0.5, "clip": true},
          "encoding": {
            "x": {"field": "k", "type": "quantitative", "scale": {"domain": [0, 154.375], "nice": false, "zero": false},
              "axis": {"values": [0,4,8,12,16,20,24,28,32,36,40,44,48,52,56,60,64,68,72,76,80,84,88,92,96,100,104,108,112,116,120,124,128,132,136,140,144,148,152], "labels": false, "ticks": false, "grid": true, "gridOpacity": {"condition": {"test": "datum.value > 0", "value": 1}, "value": 0}, "title": null}},
            "y": {"field": "l", "type": "quantitative", "scale": {"domain": [73.801, 77.099], "nice": false, "zero": false},
              "axis": {"orient": "right", "values": [74.05,74.3,74.55,74.8,75.05,75.3,75.55,75.8,76.05,76.3,76.55,76.8,77.05], "labels": false, "grid": true, "tickSize": 4, "title": null}},
            "y2": {"field": "h"}
          }
        },
        {
          "data": {"name": "candles"},
          "mark": {"type": "bar", "size": 4, "xOffset": 0.5, "stroke": "black", "strokeWidth": 1, "clip": true},
          "encoding": {
            "x": {"field": "k", "type": "quantitative", "scale": {"domain": [0, 154.375], "nice": false, "zero": false}},
            "y": {"field": "o", "type": "quantitative", "scale": {"domain": [73.801, 77.099], "nice": false, "zero": false}},
            "y2": {"field": "c"},
            "fill": {"condition": {"test": "datum.c >= datum.o", "value": "white"}, "value": "black"}
          }
        },
        {
          "data": {"name": "alligator"},
          "transform": [{"filter": "isValid(datum.jaw)"}],
          "mark": {"type": "line", "color": "#1a50d6", "strokeWidth": 2, "clip": true},
          "encoding": {
            "x": {"field": "k", "type": "quantitative", "scale": {"domain": [0, 154.375], "nice": false, "zero": false}},
            "y": {"field": "jaw", "type": "quantitative", "scale": {"domain": [73.801, 77.099], "nice": false, "zero": false}}
          }
        },
        {
          "data": {"name": "alligator"},
          "transform": [{"filter": "isValid(datum.teeth)"}],
          "mark": {"type": "line", "color": "#ff0000", "strokeWidth": 2, "clip": true},
          "encoding": {
            "x": {"field": "k", "type": "quantitative", "scale": {"domain": [0, 154.375], "nice": false, "zero": false}},
            "y": {"field": "teeth", "type": "quantitative", "scale": {"domain": [73.801, 77.099], "nice": false, "zero": false}}
          }
        },
        {
          "data": {"name": "alligator"},
          "transform": [{"filter": "isValid(datum.lips)"}],
          "mark": {"type": "line", "color": "#12e012", "strokeWidth": 2, "clip": true},
          "encoding": {
            "x": {"field": "k", "type": "quantitative", "scale": {"domain": [0, 154.375], "nice": false, "zero": false}},
            "y": {"field": "lips", "type": "quantitative", "scale": {"domain": [73.801, 77.099], "nice": false, "zero": false}}
          }
        },
        {
          "data": {"name": "bid"},
          "mark": {"type": "rule", "color": "#e00000", "strokeWidth": 1},
          "encoding": {
            "y": {"field": "bid", "type": "quantitative", "scale": {"domain": [73.801, 77.099], "nice": false, "zero": false}}
          }
        },
        {
          "data": {"name": "fractals"},
          "transform": [{"filter": "datum.side == 'up'"}],
          "mark": {"type": "point", "shape": "M0,-1 L0.75,0.85 L0,0.35 L-0.75,0.85 Z", "size": 110, "filled": true, "fill": "#a9a9a9", "stroke": "#6f6f6f", "strokeWidth": 0.6, "opacity": 1, "xOffset": 0.5, "yOffset": -8, "clip": true},
          "encoding": {
            "x": {"field": "k", "type": "quantitative", "scale": {"domain": [0, 154.375], "nice": false, "zero": false}},
            "y": {"field": "p", "type": "quantitative", "scale": {"domain": [73.801, 77.099], "nice": false, "zero": false}}
          }
        },
        {
          "data": {"name": "fractals"},
          "transform": [{"filter": "datum.side == 'down'"}],
          "mark": {"type": "point", "shape": "M0,1 L0.75,-0.85 L0,-0.35 L-0.75,-0.85 Z", "size": 110, "filled": true, "fill": "#a9a9a9", "stroke": "#6f6f6f", "strokeWidth": 0.6, "opacity": 1, "xOffset": 0.5, "yOffset": 7, "clip": true},
          "encoding": {
            "x": {"field": "k", "type": "quantitative", "scale": {"domain": [0, 154.375], "nice": false, "zero": false}},
            "y": {"field": "p", "type": "quantitative", "scale": {"domain": [73.801, 77.099], "nice": false, "zero": false}}
          }
        },
        {
          "data": {"name": "signal"},
          "mark": {"type": "point", "shape": "M0,-1 L0.9,-0.05 L0.42,-0.05 L0.42,1 L-0.42,1 L-0.42,-0.05 L-0.9,-0.05 Z", "size": 360, "filled": true, "fill": "#f4ffd0", "stroke": "#5cc83c", "strokeWidth": 1.5, "opacity": 1, "clip": true},
          "encoding": {
            "x": {"field": "k", "type": "quantitative", "scale": {"domain": [0, 154.375], "nice": false, "zero": false}},
            "y": {"field": "p", "type": "quantitative", "scale": {"domain": [73.801, 77.099], "nice": false, "zero": false}}
          }
        },
        {
          "data": {"name": "levels"},
          "mark": {"type": "text", "color": "black", "font": "Liberation Sans", "fontSize": 10, "align": "left", "baseline": "middle", "xOffset": 6},
          "encoding": {
            "x": {"datum": 154.375, "type": "quantitative", "scale": {"domain": [0, 154.375], "nice": false, "zero": false}},
            "y": {"field": "v", "type": "quantitative", "scale": {"domain": [73.801, 77.099], "nice": false, "zero": false}},
            "text": {"field": "v", "type": "quantitative", "format": ".2f"}
          }
        },
        {
          "data": {"name": "bid"},
          "mark": {"type": "point", "shape": "M-1,-0.35 L1,-0.35 L1,0.35 L-1,0.35 Z", "size": 870, "filled": true, "fill": "#d40000", "strokeWidth": 0, "opacity": 1, "xOffset": 17.5},
          "encoding": {
            "x": {"datum": 154.375, "type": "quantitative", "scale": {"domain": [0, 154.375], "nice": false, "zero": false}},
            "y": {"field": "bid", "type": "quantitative", "scale": {"domain": [73.801, 77.099], "nice": false, "zero": false}}
          }
        },
        {
          "data": {"name": "bid"},
          "mark": {"type": "text", "color": "white", "font": "Liberation Sans", "fontSize": 10, "align": "center", "baseline": "middle", "xOffset": 17.5, "yOffset": 0.5},
          "encoding": {
            "x": {"datum": 154.375, "type": "quantitative", "scale": {"domain": [0, 154.375], "nice": false, "zero": false}},
            "y": {"field": "bid", "type": "quantitative", "scale": {"domain": [73.801, 77.099], "nice": false, "zero": false}},
            "text": {"field": "bid", "type": "quantitative", "format": ".2f"}
          }
        }
      ]
    },
    {
      "width": 1235,
      "height": 100,
      "layer": [
        {
          "data": {"name": "ind"},
          "transform": [{"filter": "isValid(datum.ao)"}],
          "mark": {"type": "rule", "strokeWidth": 4, "clip": true},
          "encoding": {
            "x": {"field": "k", "type": "quantitative", "scale": {"domain": [0, 154.375], "nice": false, "zero": false},
              "axis": {"values": [0,4,8,12,16,20,24,28,32,36,40,44,48,52,56,60,64,68,72,76,80,84,88,92,96,100,104,108,112,116,120,124,128,132,136,140,144,148,152], "labels": false, "ticks": false, "grid": true, "gridOpacity": {"condition": {"test": "datum.value > 0", "value": 1}, "value": 0}, "title": null}},
            "y": {"field": "ao", "type": "quantitative", "scale": {"domain": [-1.808, 1.256], "nice": false, "zero": false},
              "axis": {"orient": "right", "values": [1.256, 0, -1.808], "labelExpr": "(datum.value < 0 ? '-' : '') + format(abs(datum.value), '.3f')", "labelFlush": true, "labelOverlap": false, "grid": true, "gridOpacity": {"condition": {"test": "datum.value == 0", "value": 1}, "value": 0}, "tickSize": 4, "labelPadding": 2, "title": null}},
            "y2": {"datum": 0},
            "color": {"field": "aod", "type": "nominal", "scale": {"domain": ["u", "d"], "range": ["#008000", "#ff0000"]}, "legend": null}
          }
        },
        {
          "data": {"name": "panels"},
          "transform": [{"filter": "datum.panel == 'ao'"}],
          "mark": {"type": "text", "align": "left", "baseline": "top", "dx": 4, "dy": 4, "font": "Liberation Sans", "fontSize": 10, "color": "black"},
          "encoding": {
            "x": {"datum": 0, "type": "quantitative", "scale": {"domain": [0, 154.375], "nice": false, "zero": false}},
            "y": {"datum": 1.256, "type": "quantitative", "scale": {"domain": [-1.808, 1.256], "nice": false, "zero": false}},
            "text": {"field": "label", "type": "nominal"}
          }
        }
      ]
    },
    {
      "width": 1235,
      "height": 100,
      "layer": [
        {
          "data": {"name": "ind"},
          "transform": [{"filter": "isValid(datum.ac)"}],
          "mark": {"type": "rule", "strokeWidth": 4, "clip": true},
          "encoding": {
            "x": {"field": "k", "type": "quantitative", "scale": {"domain": [0, 154.375], "nice": false, "zero": false},
              "axis": {"values": [0,4,8,12,16,20,24,28,32,36,40,44,48,52,56,60,64,68,72,76,80,84,88,92,96,100,104,108,112,116,120,124,128,132,136,140,144,148,152], "labels": false, "ticks": false, "grid": true, "gridOpacity": {"condition": {"test": "datum.value > 0", "value": 1}, "value": 0}, "title": null}},
            "y": {"field": "ac", "type": "quantitative", "scale": {"domain": [-0.3606, 0.4503], "nice": false, "zero": false},
              "axis": {"orient": "right", "values": [0.4503, 0, -0.3606], "labelExpr": "(datum.value < 0 ? '-' : '') + format(abs(datum.value), '.4f')", "labelFlush": true, "labelOverlap": false, "grid": true, "gridOpacity": {"condition": {"test": "datum.value == 0", "value": 1}, "value": 0}, "tickSize": 4, "labelPadding": 2, "title": null}},
            "y2": {"datum": 0},
            "color": {"field": "acd", "type": "nominal", "scale": {"domain": ["u", "d"], "range": ["#008000", "#ff0000"]}, "legend": null}
          }
        },
        {
          "data": {"name": "panels"},
          "transform": [{"filter": "datum.panel == 'ac'"}],
          "mark": {"type": "text", "align": "left", "baseline": "top", "dx": 4, "dy": 4, "font": "Liberation Sans", "fontSize": 10, "color": "black"},
          "encoding": {
            "x": {"datum": 0, "type": "quantitative", "scale": {"domain": [0, 154.375], "nice": false, "zero": false}},
            "y": {"datum": 0.4503, "type": "quantitative", "scale": {"domain": [-0.3606, 0.4503], "nice": false, "zero": false}},
            "text": {"field": "label", "type": "nominal"}
          }
        }
      ]
    },
    {
      "width": 1235,
      "height": 100,
      "layer": [
        {
          "data": {"name": "ind"},
          "transform": [{"filter": "isValid(datum.gu)"}],
          "mark": {"type": "rule", "strokeWidth": 4, "clip": true},
          "encoding": {
            "x": {"field": "k", "type": "quantitative", "scale": {"domain": [0, 154.375], "nice": false, "zero": false},
              "axis": {"values": [0,4,8,12,16,20,24,28,32,36,40,44,48,52,56,60,64,68,72,76,80,84,88,92,96,100,104,108,112,116,120,124,128,132,136,140,144,148,152], "grid": true, "gridOpacity": {"condition": {"test": "datum.value > 0", "value": 1}, "value": 0}, "title": null,
                "labelExpr": "datum.value % 8 == 0 && datum.value <= 136 ? ['7 Feb 2025','7 Feb 20:00','10 Feb 05:00','10 Feb 13:00','10 Feb 21:00','11 Feb 08:00','11 Feb 16:00','12 Feb 03:00','12 Feb 11:00','12 Feb 19:00','13 Feb 06:00','13 Feb 14:00','13 Feb 22:00','14 Feb 09:00','14 Feb 17:00','17 Feb 02:00','17 Feb 10:00','17 Feb 18:00'][datum.value / 8] : ''",
                "labelAlign": "left", "labelBaseline": "top", "labelPadding": -1, "labelOverlap": false, "labelBound": false, "labelFlush": false,
                "tickSize": 5, "tickOpacity": {"condition": {"test": "datum.value % 8 == 0 && datum.value <= 136", "value": 1}, "value": 0}}},
            "y": {"field": "gu", "type": "quantitative", "scale": {"domain": [-0.726, 0.763], "nice": false, "zero": false},
              "axis": {"orient": "right", "values": [0.763, 0, -0.726], "labelExpr": "(datum.value < 0 ? '-' : '') + format(abs(datum.value), '.3f')", "labelFlush": true, "labelOverlap": false, "grid": true, "gridOpacity": {"condition": {"test": "datum.value == 0", "value": 1}, "value": 0}, "tickSize": 4, "labelPadding": 2, "title": null}},
            "y2": {"datum": 0},
            "color": {"field": "gud", "type": "nominal", "scale": {"domain": ["u", "d"], "range": ["#008000", "#ff0000"]}, "legend": null}
          }
        },
        {
          "data": {"name": "ind"},
          "transform": [{"filter": "isValid(datum.gl)"}],
          "mark": {"type": "rule", "strokeWidth": 4, "clip": true},
          "encoding": {
            "x": {"field": "k", "type": "quantitative", "scale": {"domain": [0, 154.375], "nice": false, "zero": false}},
            "y": {"field": "gl", "type": "quantitative", "scale": {"domain": [-0.726, 0.763], "nice": false, "zero": false}},
            "y2": {"datum": 0},
            "color": {"field": "gld", "type": "nominal", "scale": {"domain": ["u", "d"], "range": ["#008000", "#ff0000"]}, "legend": null}
          }
        },
        {
          "data": {"name": "panels"},
          "transform": [{"filter": "datum.panel == 'gator'"}],
          "mark": {"type": "text", "align": "left", "baseline": "top", "dx": 4, "dy": 4, "font": "Liberation Sans", "fontSize": 10, "color": "black"},
          "encoding": {
            "x": {"datum": 0, "type": "quantitative", "scale": {"domain": [0, 154.375], "nice": false, "zero": false}},
            "y": {"datum": 0.763, "type": "quantitative", "scale": {"domain": [-0.726, 0.763], "nice": false, "zero": false}},
            "text": {"field": "label", "type": "nominal"}
          }
        }
      ]
    }
  ]
}
